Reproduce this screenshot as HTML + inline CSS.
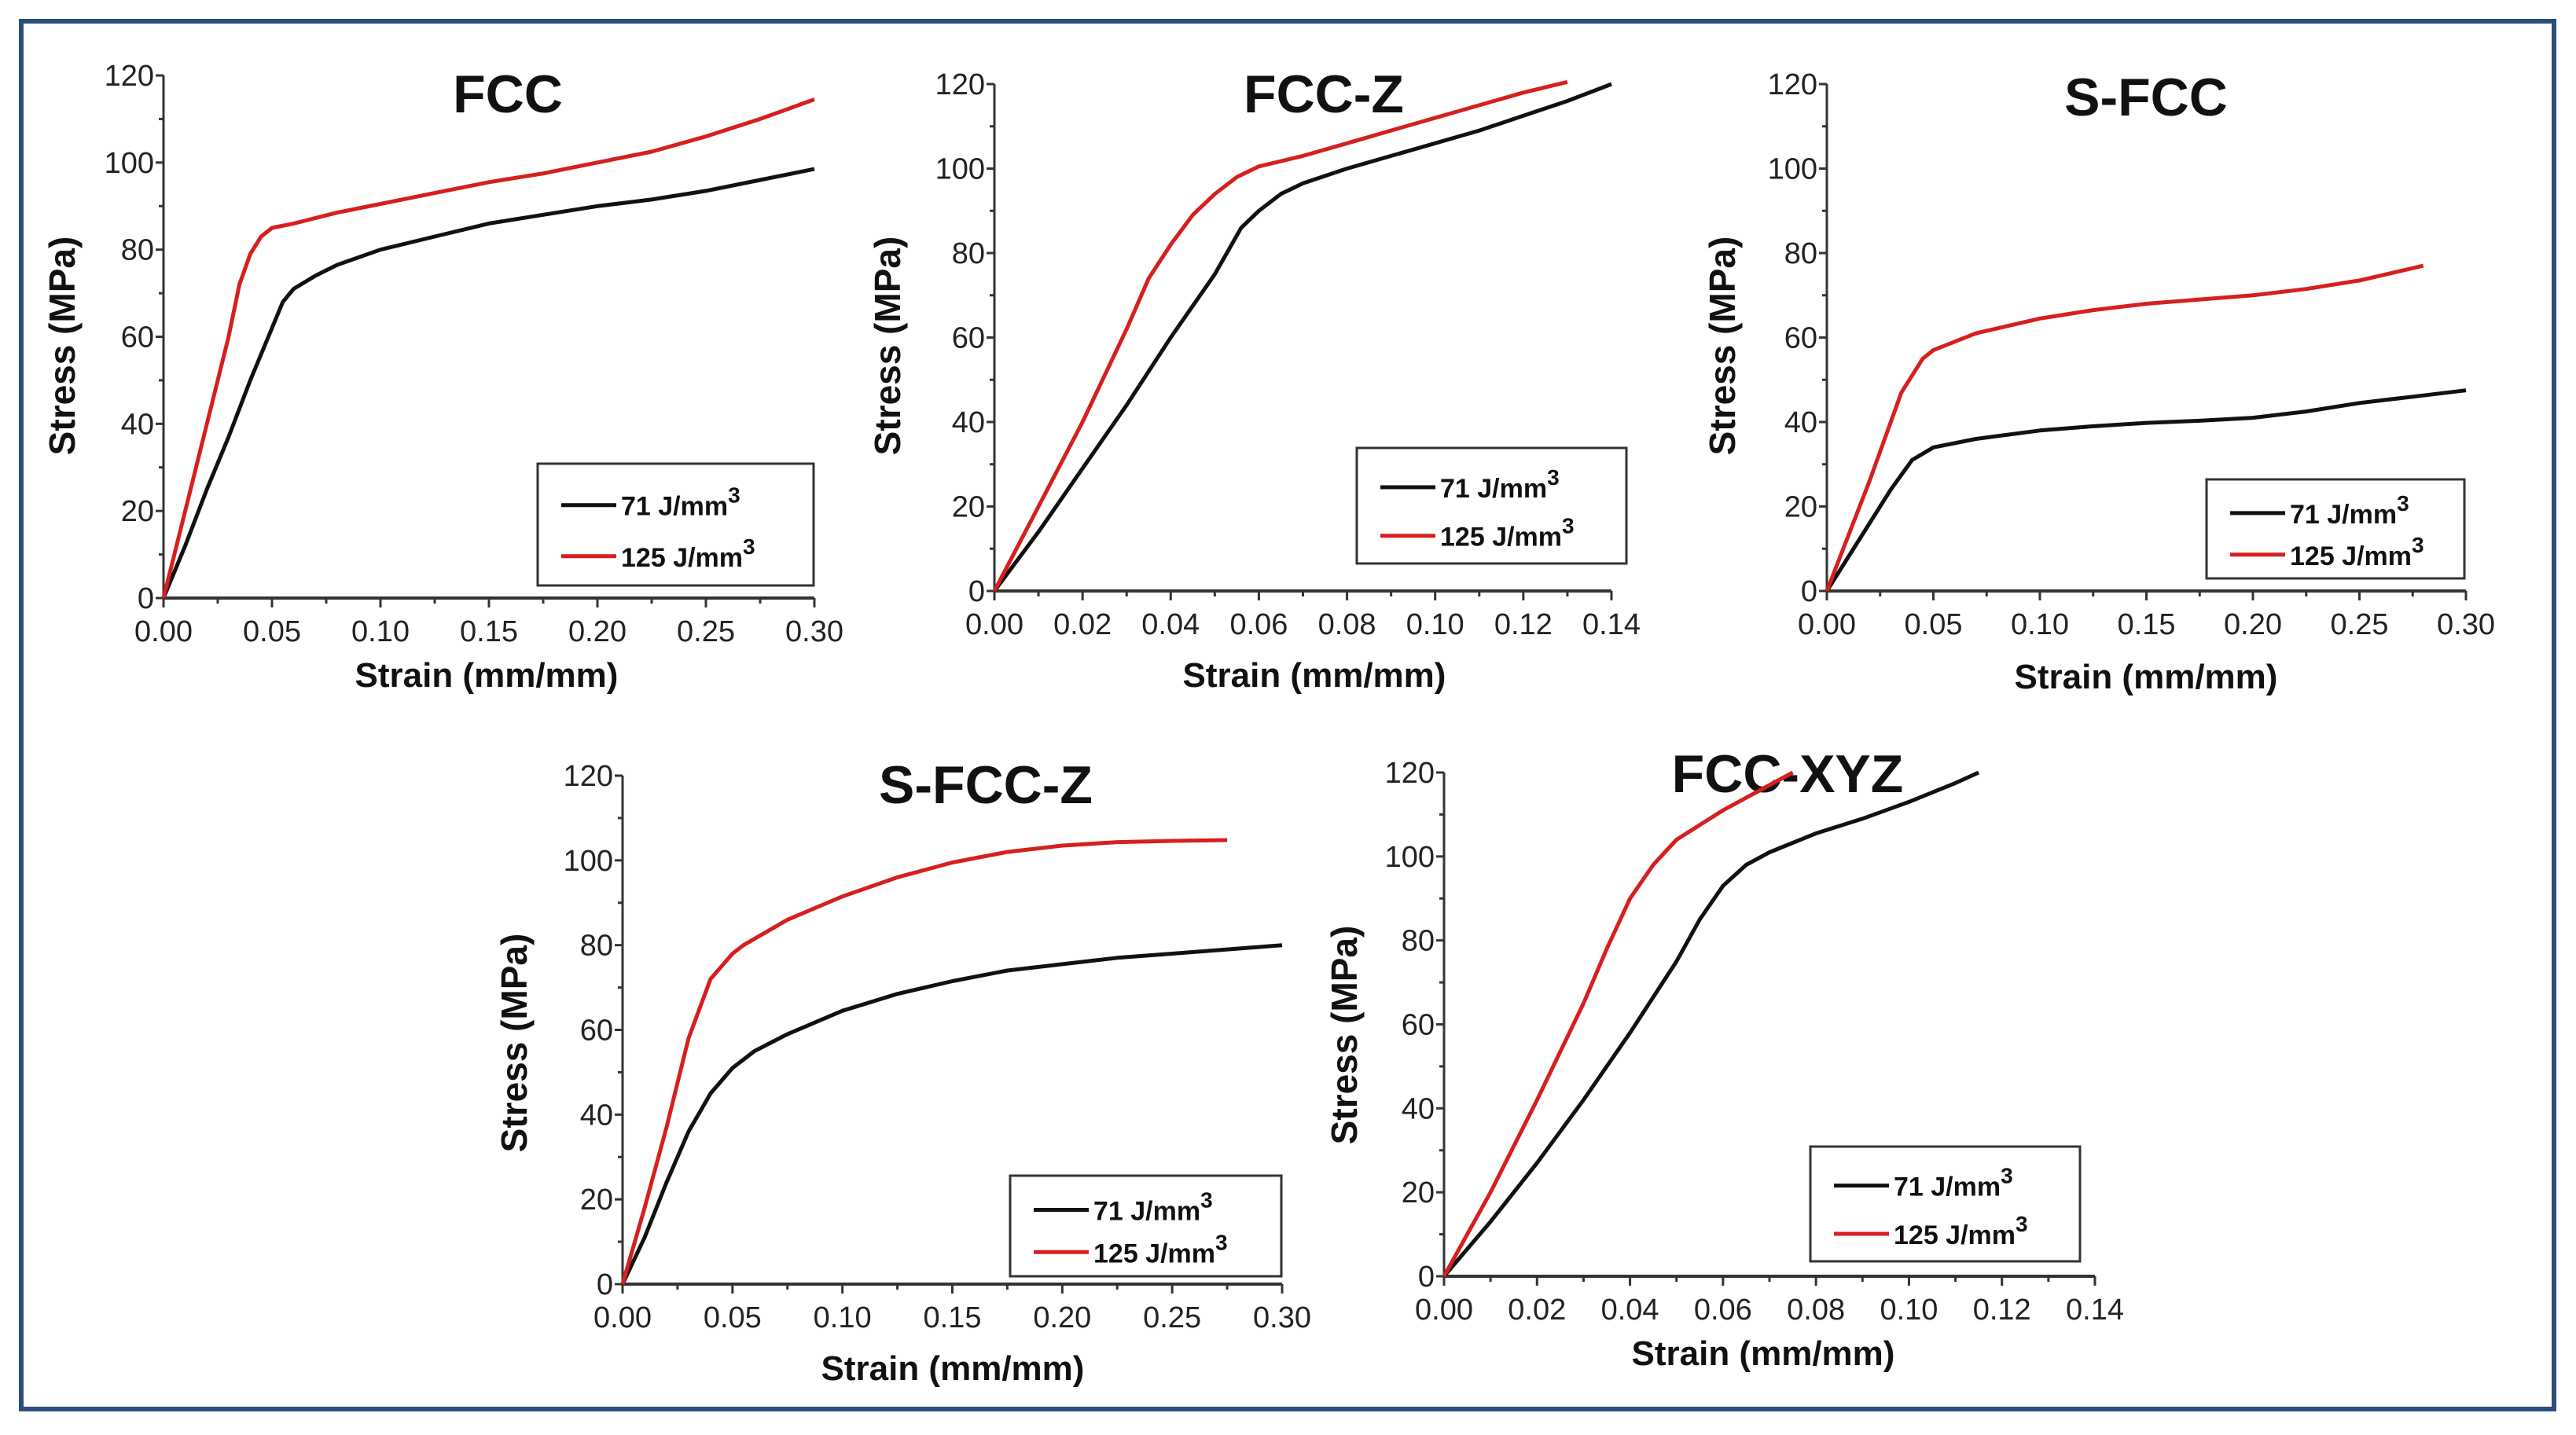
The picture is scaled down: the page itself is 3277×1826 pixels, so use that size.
<!DOCTYPE html>
<html><head><meta charset="utf-8">
<style>
html,body{margin:0;padding:0;background:#fff;}
svg{display:block;font-family:"Liberation Sans",Arial,sans-serif;}
</style></head>
<body>
<svg id="root" width="3277" height="1826" viewBox="0 0 3277 1826">
<rect x="27" y="27" width="3222" height="1766" fill="#fff" stroke="#2b4e7c" stroke-width="6"/>
</svg>
<script>
// ---- data: FCC ----
const fccStrain71 = [0,0.01,0.02,0.03,0.04,0.05,0.055,0.06,0.07,0.08,0.1,0.125,0.15,0.175,0.2,0.225,0.25,0.275,0.3];
const fccStress71 = [0,12,25,37,50,62,68,71,74,76.5,80,83,86,88,90,91.5,93.5,96,98.5];
const fccStrain125 = [0,0.01,0.02,0.03,0.035,0.04,0.045,0.05,0.06,0.08,0.1,0.125,0.15,0.175,0.2,0.225,0.25,0.275,0.3];
const fccStress125 = [0,20,40,60,72,79,83,85,86,88.5,90.5,93,95.5,97.5,100,102.5,106,110,114.5];
// ---- data: FCC-Z ----
const fcczStrain71 = [0,0.01,0.02,0.03,0.04,0.05,0.056,0.06,0.065,0.07,0.08,0.09,0.1,0.11,0.12,0.13,0.14];
const fcczStress71 = [0,14,29,44,60,75,86,90,94,96.5,100,103,106,109,112.5,116,120];
const fcczStrain125 = [0,0.01,0.02,0.03,0.035,0.04,0.045,0.05,0.055,0.06,0.07,0.08,0.09,0.1,0.11,0.12,0.13];
const fcczStress125 = [0,20,40,62,74,82,89,94,98,100.5,103,106,109,112,115,118,120.5];
// ---- data: S-FCC ----
const sfccStrain71 = [0,0.01,0.02,0.03,0.04,0.05,0.07,0.1,0.125,0.15,0.175,0.2,0.225,0.25,0.275,0.3];
const sfccStress71 = [0,8,16,24,31,34,36,38,39,39.8,40.3,41,42.5,44.5,46,47.5];
const sfccStrain125 = [0,0.01,0.02,0.03,0.035,0.04,0.045,0.05,0.07,0.1,0.125,0.15,0.175,0.2,0.225,0.25,0.28];
const sfccStress125 = [0,13,26,40,47,51,55,57,61,64.5,66.5,68,69,70,71.5,73.5,77];
// ---- data: S-FCC-Z ----
const sfcczStrain71 = [0,0.01,0.02,0.03,0.04,0.05,0.06,0.075,0.1,0.125,0.15,0.175,0.2,0.225,0.25,0.275,0.3];
const sfcczStress71 = [0,11,24,36,45,51,55,59,64.5,68.5,71.5,74,75.5,77,78,79,80];
const sfcczStrain125 = [0,0.01,0.02,0.03,0.04,0.05,0.055,0.075,0.1,0.125,0.15,0.175,0.2,0.225,0.25,0.275];
const sfcczStress125 = [0,18,37,58,72,78,80,86,91.5,96,99.5,102,103.5,104.3,104.6,104.8];
// ---- data: FCC-XYZ ----
const xyzStrain71 = [0,0.01,0.02,0.03,0.04,0.05,0.055,0.06,0.065,0.07,0.08,0.09,0.1,0.11,0.115];
const xyzStress71 = [0,13,27,42,58,75,85,93,98,101,105.5,109,113,117.5,120];
const xyzStrain125 = [0,0.01,0.02,0.03,0.035,0.04,0.045,0.05,0.055,0.06,0.065,0.07,0.075];
const xyzStress125 = [0,20,42,65,78,90,98,104,107.5,111,114,117,120];
// ---- tick labels ----
const yTicks = [0,20,40,60,80,100,120];
const xTicks30 = ["0.00","0.05","0.10","0.15","0.20","0.25","0.30"];
const xTicks14 = ["0.00","0.02","0.04","0.06","0.08","0.10","0.12","0.14"];

const NS="http://www.w3.org/2000/svg";
const root=document.getElementById('root');
function mk(tag,attrs,parent){const e=document.createElementNS(NS,tag);for(const k in attrs)e.setAttribute(k,attrs[k]);(parent||root).appendChild(e);return e;}

function chart(cfg){
  const g=mk('g',{});
  
  
  const xs=v=>cfg.x0+(v/cfg.xmax)*(cfg.x1-cfg.x0);
  const ys=v=>cfg.y0-(v/120)*(cfg.y0-cfg.y1);
  const ax=mk('line',{x1:cfg.x0,y1:cfg.y0,x2:cfg.x0,y2:cfg.y1,stroke:'#333','stroke-width':3},g);
  
  
  const bx=mk('line',{x1:cfg.x0,y1:cfg.y0,x2:cfg.x1,y2:cfg.y0,stroke:'#333','stroke-width':4},g);
  
  
  for(let v=0;v<=120;v+=10){
    const major=v%20===0;
    mk('line',{x1:cfg.x0-(major?10:6),x2:cfg.x0,y1:ys(v),y2:ys(v),stroke:'#333','stroke-width':3},g);
  }
  yTicks.forEach(v=>{
    const t=mk('text',{x:cfg.x0-12,y:ys(v)+13,'text-anchor':'end','font-size':38,fill:'#222'},g);
    t.textContent=v;
    
    
  });
  const labels=cfg.xlabels, n=labels.length-1;
  for(let i=0;i<=2*n;i++){
    const v=cfg.xmax*i/(2*n);
    mk('line',{x1:xs(v),x2:xs(v),y1:cfg.y0,y2:cfg.y0+(i%2===0?12:7),stroke:'#333','stroke-width':3},g);
  }
  labels.forEach((lab,i)=>{
    const t=mk('text',{x:xs(cfg.xmax*i/n),y:cfg.y0+55,'text-anchor':'middle','font-size':38,fill:'#222'},g);
    t.textContent=lab;
    
    
  });
  const tt=mk('text',{x:cfg.tx,y:cfg.ty,'text-anchor':'middle','font-size':68,'font-weight':'bold',fill:'#111'},g);
  tt.textContent=cfg.title;
  
  
  const xt=mk('text',{x:cfg.xtx,y:cfg.xty,'text-anchor':'middle','font-size':44,'font-weight':'bold',fill:'#111'},g);
  xt.textContent='Strain (mm/mm)';
  
  
  const yt=mk('text',{x:0,y:0,'text-anchor':'middle','font-size':46,'font-weight':'bold',fill:'#111',transform:`translate(${cfg.ytx},${cfg.yty}) rotate(-90)`},g);
  yt.textContent='Stress (MPa)';
  
  
  const series=[[cfg.s71x,cfg.s71y,'#111','71'],[cfg.s125x,cfg.s125y,'#d61f1f','125']];
  series.forEach(s=>{
    const d=s[0].map((v,i)=>(i?'L':'M')+xs(v).toFixed(1)+','+ys(s[1][i]).toFixed(1)).join(' ');
    const p=mk('path',{d:d,fill:'none',stroke:s[2],'stroke-width':5,'stroke-linejoin':'round'},g);
    
    
  });
  const L=cfg.leg;
  const lg=mk('g',{},g);
  
  
  mk('rect',{x:L[0],y:L[1],width:L[2]-L[0],height:L[3]-L[1],fill:'#fff',stroke:'#333','stroke-width':3},lg);
  const h=(L[3]-L[1]);
  [['71 J/mm','#111',0.34],['125 J/mm','#d61f1f',0.76]].forEach(e=>{
    const yy=L[1]+h*e[2];
    const ln=mk('line',{x1:L[0]+30,x2:L[0]+100,y1:yy,y2:yy,stroke:e[1],'stroke-width':5},lg);
    
    
    const t=mk('text',{x:L[0]+106,y:yy+13,'font-size':34,'font-weight':'bold',fill:'#111'},lg);
    t.textContent=e[0];
    const sup=mk('tspan',{dy:-16,'font-size':28},t);
    sup.textContent='3';
    
    
  });
}

chart({id:'fcc',title:'FCC',x0:208,x1:1036,y0:761,y1:96,xmax:0.30,xlabels:xTicks30,tx:646,ty:143,xtx:619,xty:874,ytx:95,yty:440,
  s71x:fccStrain71,s71y:fccStress71,s125x:fccStrain125,s125y:fccStress125,leg:[684,590,1035,745]});
chart({id:'fcc-z',title:'FCC-Z',x0:1265,x1:2050,y0:752,y1:107,xmax:0.14,xlabels:xTicks14,tx:1684,ty:143,xtx:1672,xty:874,ytx:1145,yty:440,
  s71x:fcczStrain71,s71y:fcczStress71,s125x:fcczStrain125,s125y:fcczStress125,leg:[1726,570,2069,717]});
chart({id:'s-fcc',title:'S-FCC',x0:2324,x1:3137,y0:752,y1:107,xmax:0.30,xlabels:xTicks30,tx:2730,ty:147,xtx:2730,xty:876,ytx:2207,yty:440,
  s71x:sfccStrain71,s71y:sfccStress71,s125x:sfccStrain125,s125y:sfccStress125,leg:[2807,610,3135,736]});
chart({id:'s-fcc-z',title:'S-FCC-Z',x0:792,x1:1631,y0:1634,y1:987,xmax:0.30,xlabels:xTicks30,tx:1254,ty:1022,xtx:1212,xty:1756,ytx:670,yty:1327,
  s71x:sfcczStrain71,s71y:sfcczStress71,s125x:sfcczStrain125,s125y:sfcczStress125,leg:[1285,1496,1630,1624]});
chart({id:'fcc-xyz',title:'FCC-XYZ',x0:1837,x1:2665,y0:1624,y1:983,xmax:0.14,xlabels:xTicks14,tx:2274,ty:1008,xtx:2243,xty:1737,ytx:1726,yty:1317,
  s71x:xyzStrain71,s71y:xyzStress71,s125x:xyzStrain125,s125y:xyzStress125,leg:[2303,1459,2646,1605]});
</script>
</body></html>
